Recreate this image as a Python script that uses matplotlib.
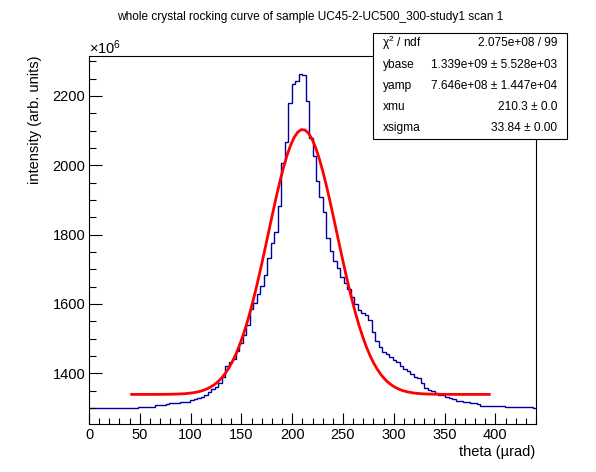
"""ROOT-style rocking curve: histogram of the whole crystal scan with a gaussian + base fit."""

import numpy as np
import matplotlib

matplotlib.use("Agg")
import matplotlib.pyplot as plt
from matplotlib.patches import Rectangle
from matplotlib.ticker import MultipleLocator

plt.rcParams["font.family"] = ["Liberation Sans", "DejaVu Sans"]
plt.rcParams["mathtext.fontset"] = "custom"
plt.rcParams["mathtext.rm"] = "Liberation Sans"
plt.rcParams["mathtext.it"] = "Liberation Sans:italic"

# histogram: 128 bins over 0..440 urad, contents in units of 1e6
theta_lo, theta_hi, n_bins = 0.0, 440.0, 128
counts = (
    [1301] * 5 + [1299.5] + [1301] * 8 + [1303.5] * 5 + [1307.5] * 3 + [1310.5]
    + [1314] * 3 + [1317] * 3
    + [1322, 1326, 1328, 1332.5, 1336.5, 1346, 1354, 1360.5, 1371, 1388,
       1421, 1432.5, 1442, 1463.5, 1486.5, 1510, 1539, 1585, 1602, 1628,
       1652, 1683, 1732, 1777, 1807, 1884, 2006, 2066, 2179, 2234,
       2243, 2263, 2261, 2186, 2078, 2028, 1956, 1910, 1866, 1789.5,
       1753, 1725, 1703, 1679, 1660, 1642, 1619, 1600, 1583, 1573,
       1568, 1554, 1518, 1492, 1475, 1461.5, 1456, 1448, 1438, 1432.5,
       1421, 1411.5, 1406, 1397, 1390, 1385.5, 1371, 1358.5, 1352, 1350,
       1342, 1336.5, 1336.5, 1332.5, 1329.5, 1325, 1320, 1320, 1316, 1316,
       1313.5, 1313.5, 1310.5]
    + [1306.5] * 4 + [1304.5] * 3 + [1302] * 8 + [1299]
)

# fit result (from the stat box)
ybase, yamp, xmu, xsigma = 1.339e9, 7.646e8, 210.3, 33.84
fit_lo, fit_hi = 42.0, 394.0

stat_labels = ["\u03c7$^{2}$ / ndf", "ybase", "yamp", "xmu", "xsigma"]
stat_values = ["2.075e+08 / 99", "1.339e+09 \u00b1 5.528e+03",
               "7.646e+08 \u00b1 1.447e+04", "210.3 \u00b1 0.0", "33.84 \u00b1 0.00"]

W, H = 596, 472
fig = plt.figure(figsize=(W / 100, H / 100), dpi=100)
ax = fig.add_axes([89 / W, 1 - 424 / H, 447 / W, 368 / H])

edges = np.linspace(theta_lo, theta_hi, n_bins + 1)
ax.stairs(counts, edges, baseline=None, color="#000099", lw=1.0)

xf = np.linspace(fit_lo, fit_hi, 100)
yf = (ybase + yamp * np.exp(-0.5 * ((xf - xmu) / xsigma) ** 2)) / 1e6
ax.plot(xf, yf, color="#ff0000", lw=2.0)

ax.set_xlim(theta_lo, theta_hi)
ax.set_ylim(1253.6, 2315.4)
ax.xaxis.set_major_locator(MultipleLocator(50))
ax.xaxis.set_minor_locator(MultipleLocator(10))
ax.yaxis.set_major_locator(MultipleLocator(200))
ax.yaxis.set_minor_locator(MultipleLocator(50))
ax.tick_params(axis="both", which="both", direction="in", top=False, right=False,
               labelsize=10.5, width=0.8)
ax.tick_params(axis="x", which="major", length=7.9, pad=3.0)
ax.tick_params(axis="x", which="minor", length=4.0)
ax.tick_params(axis="y", which="major", length=9.6, pad=2.6)
ax.tick_params(axis="y", which="minor", length=4.8)
for sp in ax.spines.values():
    sp.set_linewidth(0.8)

ax.set_xlabel("theta (\u00b5rad)", fontsize=10.5)
ax.xaxis.set_label_coords(0.998, -0.076)
ax.xaxis.label.set_ha("right")
ax.xaxis.label.set_va("center")
ax.set_ylabel("intensity (arb. units)", fontsize=10.5)
ax.yaxis.set_label_coords(-0.121, 1.0)
ax.yaxis.label.set_rotation_mode("anchor")
ax.yaxis.label.set_ha("right")
ax.yaxis.label.set_va("center")

fig.text(89 / W, 1 - 48 / H, "$\\times$10$^{6}$", fontsize=10.5, ha="left", va="center")
fig.text(0.521, 1 - 16.7 / H, "whole crystal rocking curve of sample UC45-2-UC500_300-study1 scan 1",
         fontsize=8.6, ha="center", va="center")

# stat box
bx0, bx1, by0, by1 = 373 / W, 567 / W, 1 - 138.5 / H, 1 - 33 / H
fig.patches.append(Rectangle((bx0, by0), bx1 - bx0, by1 - by0, transform=fig.transFigure,
                             facecolor="white", edgecolor="black", lw=0.8, zorder=5))
row_y = [43.3, 65, 86, 107.3, 128.3]
for lab, val, yy in zip(stat_labels, stat_values, row_y):
    fig.text(382.5 / W, 1 - yy / H, lab, fontsize=8.6, ha="left", va="center", zorder=6)
    fig.text(557 / W, 1 - yy / H, val, fontsize=8.6, ha="right", va="center", zorder=6)

fig.savefig("out.png", dpi=100)
